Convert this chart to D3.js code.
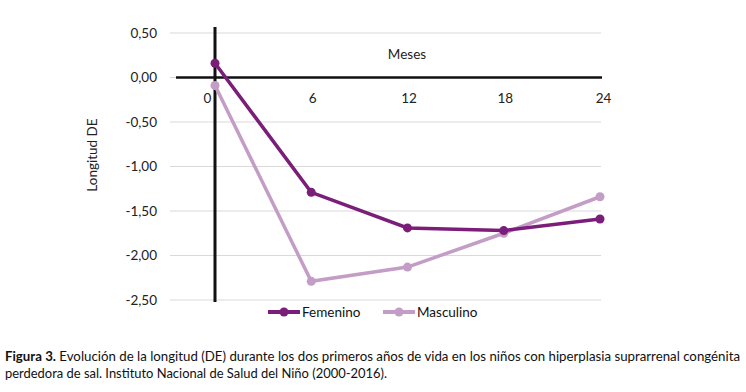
<!DOCTYPE html>
<html><head><meta charset="utf-8">
<script src="https://cdn.jsdelivr.net/npm/d3@7"></script>
<style>
body{margin:0;background:#fff;}
text{font-family:Lato,"Open Sans",sans-serif;}
</style></head>
<body><svg id="c" width="746" height="392"></svg>
<script>
const months = [0, 6, 12, 18, 24];
const femenino = [0.16, -1.29, -1.69, -1.72, -1.59];
const masculino = [-0.09, -2.29, -2.13, -1.75, -1.34];
const yTicks = [0.5, 0, -0.5, -1, -1.5, -2, -2.5];
const seriesNames = ["Femenino", "Masculino"];
const colors = ["#7B1E7A", "#C49DC6"];

const svg = d3.select("#c");
const x = d3.scaleLinear().domain([0, 24]).range([215, 600]);
const y = d3.scaleLinear().domain([-2.5, 0.5]).range([300, 33]);
const fmt = d => d3.format(".2f")(d).replace(".", ",").replace("−", "-");

// gridlines
svg.append("g").selectAll("line").data(yTicks).join("line")
  .attr("x1", 170).attr("x2", 601)
  .attr("y1", d => y(d)).attr("y2", d => y(d))
  .attr("stroke", "#d9d9d9").attr("stroke-width", 1);

// y labels
const yAxis = d3.axisLeft(y).tickValues(yTicks).tickSize(0).tickPadding(0).tickFormat(fmt);
const gy = svg.append("g").attr("transform", "translate(157,0)").call(yAxis);
gy.select(".domain").remove();
gy.selectAll("text").attr("font-size", 13.5).attr("fill", "#222").attr("font-family", "Lato");

// x axis line at 0
svg.append("line").attr("x1", 176).attr("x2", 602).attr("y1", y(0)).attr("y2", y(0))
  .attr("stroke", "#111").attr("stroke-width", 2.5);
// vertical axis line
svg.append("line").attr("x1", x(0)).attr("x2", x(0)).attr("y1", 27).attr("y2", 302)
  .attr("stroke", "#111").attr("stroke-width", 3);

// x labels
const xAxis = d3.axisBottom(x).tickValues(months).tickSize(0).tickPadding(0).tickFormat(d3.format("d"));
const gx = svg.append("g").attr("transform", `translate(0,${y(0) + 16})`).call(xAxis);
gx.select(".domain").remove();
gx.selectAll("text").attr("font-size", 13.5).attr("fill", "#222").attr("font-family", "Lato")
  .attr("dx", (d, i) => i === 0 ? -8 : (i === 4 ? 3 : 1));

// axis titles
svg.append("text").attr("x", 407).attr("y", 59).attr("text-anchor", "middle")
  .attr("font-size", 13.5).attr("fill", "#222").text("Meses");
svg.append("text").attr("transform", "translate(97,155) rotate(-90)").attr("text-anchor", "middle")
  .attr("font-size", 13.5).attr("fill", "#222").text("Longitud  DE");

// series
const data = [femenino, masculino];
const line = d3.line().x((d, i) => x(months[i])).y(d => y(d));
[1, 0].forEach(k => {
  const g = svg.append("g");
  g.append("path").datum(data[k]).attr("d", line).attr("fill", "none")
    .attr("stroke", colors[k]).attr("stroke-width", 3.5);
  g.selectAll("circle").data(data[k]).join("circle")
    .attr("cx", (d, i) => x(months[i])).attr("cy", d => y(d)).attr("r", 4.5)
    .attr("fill", colors[k]);
});

// legend
const legX = [268, 383];
seriesNames.forEach((n, k) => {
  const g = svg.append("g").attr("transform", `translate(${legX[k]},312)`);
  g.append("line").attr("x1", 0).attr("x2", 32).attr("y1", 0).attr("y2", 0)
    .attr("stroke", colors[k]).attr("stroke-width", 4);
  g.append("circle").attr("cx", 16).attr("cy", 0).attr("r", 4.5).attr("fill", colors[k]);
  g.append("text").attr("x", 34).attr("y", 5).attr("font-size", 13.5).attr("fill", "#111").text(n);
});

// caption
const cap = svg.append("text").attr("x", 5).attr("y", 361).attr("font-size", 12.5).attr("fill", "#111")
  .attr("textLength", 735).attr("lengthAdjust", "spacingAndGlyphs");
cap.append("tspan").attr("font-weight", "bold").text("Figura 3.");
cap.append("tspan").text(" Evolución de la longitud (DE) durante los dos primeros años de vida en los niños con hiperplasia suprarrenal congénita");
svg.append("text").attr("x", 5).attr("y", 378).attr("font-size", 12.5).attr("fill", "#111")
  .attr("textLength", 382).attr("lengthAdjust", "spacingAndGlyphs")
  .text("perdedora de sal. Instituto Nacional de Salud del Niño (2000-2016).");
</script></body></html>
